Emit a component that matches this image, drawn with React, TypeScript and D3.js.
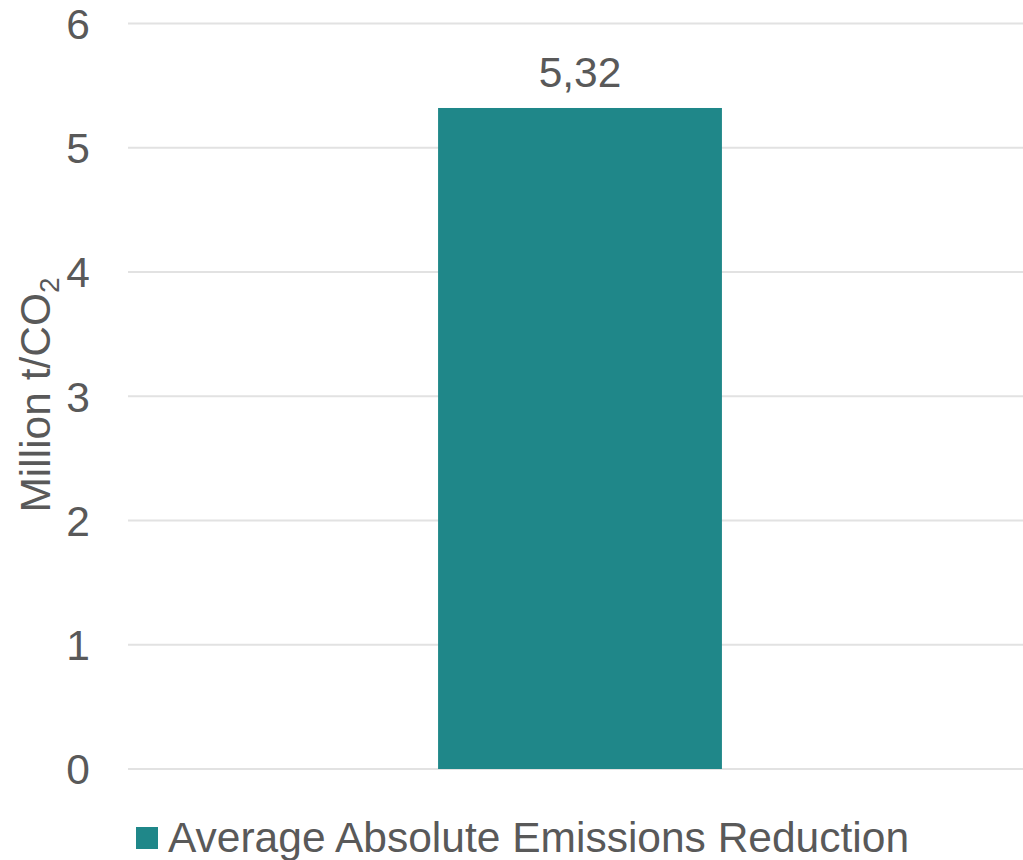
import React from "react";
import * as d3 from "d3";

const categories = ["Average Absolute Emissions Reduction"];
const values = [5.32];
const valueLabels = ["5,32"];
const yTicks = [0, 1, 2, 3, 4, 5, 6];
const seriesName = "Average Absolute Emissions Reduction";

const W = 1023;
const H = 860;
const FONT = "'Liberation Sans', Arial, sans-serif";
const TXT = "#595959";
const BAR = "#1F8789";
const FS = 42.5;

export default function App() {
  const y = d3.scaleLinear().domain([0, 6]).range([769, 23.5]);
  const x = d3
    .scaleBand<string>()
    .domain(categories)
    .range([128, 1032])
    .paddingInner(0.686)
    .paddingOuter(0.343);

  return (
    <svg
      width={W}
      height={H}
      style={{ position: "absolute", left: 0, top: 0, background: "#fff" }}
      fontFamily={FONT}
    >
      {yTicks.map((t) => (
        <g key={t}>
          <line x1={128} x2={1023} y1={y(t)} y2={y(t)} stroke="#e2e2e2" strokeWidth={2} />
          <text x={90} y={y(t)} dy="0.36em" textAnchor="end" fontSize={FS} fill={TXT}>
            {t}
          </text>
        </g>
      ))}
      {categories.map((c, i) => (
        <g key={c}>
          <rect
            x={x(c)}
            y={y(values[i])}
            width={x.bandwidth()}
            height={y(0) - y(values[i])}
            fill={BAR}
          />
          <text
            x={(x(c) as number) + x.bandwidth() / 2}
            y={y(values[i]) - 21}
            textAnchor="middle"
            fontSize={FS}
            fill={TXT}
          >
            {valueLabels[i]}
          </text>
        </g>
      ))}
      <text
        transform="translate(50,395) rotate(-90)"
        textAnchor="middle"
        fontSize={FS}
        fill={TXT}
      >
        Million t/CO
        <tspan fontSize={28} dy={9}>2</tspan>
      </text>
      <rect x={136} y={827} width={22} height={22} fill={BAR} />
      <text x={168} y={852} fontSize={FS} fill={TXT}>
        {seriesName}
      </text>
    </svg>
  );
}
